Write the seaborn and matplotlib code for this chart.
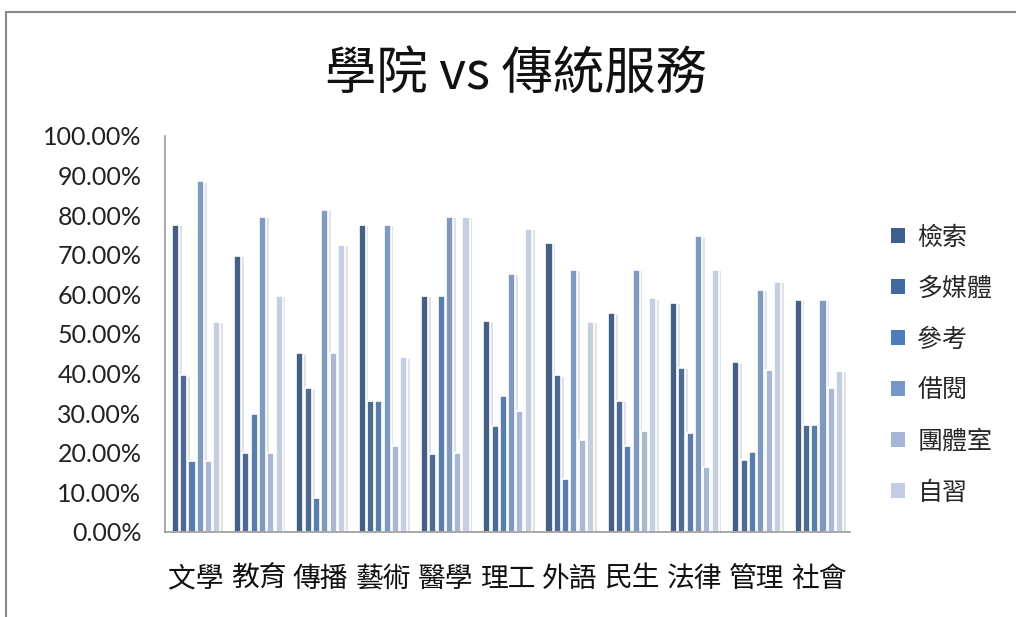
import numpy as np
import pandas as pd
import matplotlib
matplotlib.use("Agg")
import matplotlib.pyplot as plt
import matplotlib.patheffects as pe
from matplotlib.patches import Rectangle
from matplotlib.ticker import PercentFormatter
import seaborn as sns

# data (fractions)
colleges = ['文學', '教育', '傳播', '藝術', '醫學', '理工', '外語', '民生', '法律', '管理', '社會']
services = ['檢索', '多媒體', '參考', '借閱', '團體室', '自習']

search = [0.775, 0.697, 0.451, 0.775, 0.596, 0.534, 0.731, 0.552, 0.579, 0.428, 0.586]
multimedia = [0.396, 0.199, 0.363, 0.331, 0.197, 0.268, 0.396, 0.332, 0.415, 0.182, 0.270]
reference = [0.178, 0.298, 0.087, 0.331, 0.596, 0.343, 0.133, 0.218, 0.251, 0.201, 0.270]
lending = [0.886, 0.796, 0.813, 0.775, 0.796, 0.652, 0.662, 0.662, 0.747, 0.611, 0.586]
group_room = [0.178, 0.199, 0.451, 0.218, 0.199, 0.306, 0.232, 0.256, 0.163, 0.409, 0.364]
self_study = [0.531, 0.597, 0.725, 0.441, 0.796, 0.765, 0.531, 0.590, 0.662, 0.631, 0.407]

colors = ['#3B5F8E', '#42699F', '#4C7DBA', '#7597C9', '#A3B6D7', '#C2CDE4']

df = pd.DataFrame({
    '學院': np.repeat(colleges, len(services)),
    '服務': services * len(colleges),
    '比例': np.column_stack([search, multimedia, reference, lending,
                            group_room, self_study]).ravel(),
})

sns.set_theme(style='white')
plt.rcParams['font.family'] = ['Noto Sans CJK TC', 'DejaVu Sans']

fig = plt.figure(figsize=(10.16, 6.17), dpi=100)
ax = fig.add_axes([0.1624, 0.1378, 0.6742, 0.6418])

sns.barplot(data=df, x='學院', y='比例', hue='服務', hue_order=services,
            palette=colors, width=0.8, gap=0.15, edgecolor='white',
            linewidth=1.2, legend=False, ax=ax)

shadow = [pe.SimplePatchShadow(offset=(2, -1), shadow_rgbFace='#a0a0a0', alpha=0.3),
          pe.Normal()]
for bar in ax.patches:
    bar.set_path_effects(shadow)

ax.set_ylim(0, 1.0)
ax.set_yticks(np.arange(0, 1.01, 0.1))
ax.yaxis.set_major_formatter(PercentFormatter(1.0, decimals=2))
ax.set_xlabel('')
ax.set_ylabel('')
ax.tick_params(axis='y', length=0, pad=17, labelsize=18, colors='#222222')
ax.tick_params(axis='x', length=0, pad=23, labelsize=20, colors='#111111')
for lbl in ax.get_yticklabels():
    lbl.set_family(['Lato', 'DejaVu Sans'])
for lbl in ax.get_xticklabels():
    lbl.set_family(['Noto Sans CJK TC'])
for side in ['top', 'right']:
    ax.spines[side].set_visible(False)
for side in ['left', 'bottom']:
    ax.spines[side].set_color('#9a9a9a')
    ax.spines[side].set_linewidth(1.2)

# legend
handles = [Rectangle((0, 0), 1, 1, facecolor=c, edgecolor='none') for c in colors]
fig.legend(handles, services, loc='center left', bbox_to_anchor=(0.855, 0.408),
           frameon=False, handlelength=0.55, handleheight=0.55,
           handletextpad=0.5, labelspacing=1.0,
           prop={'family': ['Noto Sans CJK TC'], 'size': 18})

fig.suptitle('學院 vs 傳統服務', x=0.508, y=0.922, fontsize=37,
             family=['Noto Sans CJK TC'], color='#111111')

# outer chart frame
fig.patches.append(Rectangle((0.006, -0.01), 1.2, 0.99, transform=fig.transFigure,
                             fill=False, edgecolor='#8a8a8a', linewidth=1.5))

fig.savefig('out.png', dpi=100, facecolor='white')
